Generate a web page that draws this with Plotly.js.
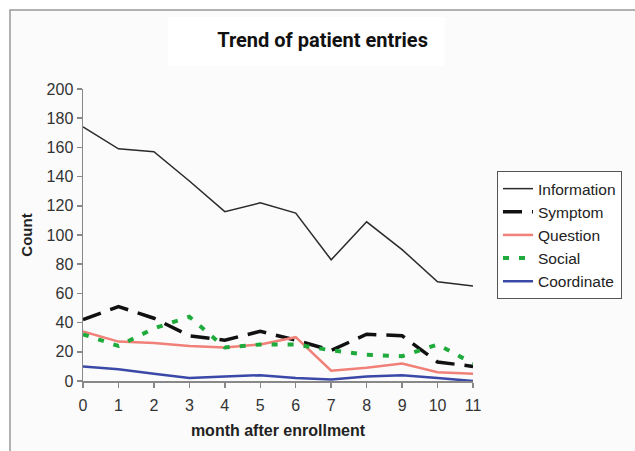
<!DOCTYPE html>
<html>
<head>
<meta charset="utf-8">
<script src="https://cdn.plot.ly/plotly-3.0.1.min.js"></script>
<style>html,body{margin:0;padding:0;background:#fff;}#chart{width:635px;height:451px;}</style>
</head>
<body>
<div id="chart"></div>
<script>
const months = [0,1,2,3,4,5,6,7,8,9,10,11];
const information = [174,159,157,137,116,122,115,83,109,90,68,65];
const symptom = [42,51,43,31,28,34,28,21,32,31,13,10];
const question = [34,27,26,24,23,25,30,7,9,12,6,5];
const social = [32,24,36,44,23,25,25,21,18,17,25,12];
const coordinate = [10,8,5,2,3,4,2,1,3,4,2,0];
const xTicks = ["0","1","2","3","4","5","6","7","8","9","10","11"];

const traces = [
  {x: months, y: information, name: "Information", mode: "lines", line: {color: "#2a2a2a", width: 1.5}},
  {x: months, y: symptom, name: "Symptom", mode: "lines", line: {color: "#111111", width: 3.5, dash: "19px,10px"}},
  {x: months, y: question, name: "Question", mode: "lines", line: {color: "#f08078", width: 2.5}},
  {x: months, y: social, name: "Social", mode: "lines", line: {color: "#1faa3c", width: 4, dash: "6px,10px"}},
  {x: months, y: coordinate, name: "Coordinate", mode: "lines", line: {color: "#3a48a8", width: 2.5}}
];

const layout = {
  width: 635, height: 451,
  margin: {l: 83, r: 162, t: 89, b: 70},
  paper_bgcolor: "#ffffff",
  plot_bgcolor: "rgba(0,0,0,0)",
  font: {family: "Liberation Sans, Arial, sans-serif", color: "#333"},
  title: {text: "<b>Trend of patient entries</b>", x: 0.508, xanchor: "center", y: 0.911, yanchor: "middle",
          font: {family: "Roboto, sans-serif", size: 20, color: "#111"}},
  xaxis: {
    range: [0, 11], tickvals: months, ticktext: xTicks,
    showgrid: false, zeroline: false, showline: true, linecolor: "#888", linewidth: 1.5,
    ticks: "outside", ticklen: 5, tickcolor: "#888", tickwidth: 1.5,
    tickfont: {size: 16, color: "#333"}, ticklabelstandoff: 4,
    title: {text: "<b>month after enrollment</b>", font: {size: 16, color: "#222"}, standoff: 12}
  },
  yaxis: {
    range: [0, 200], dtick: 20,
    showgrid: false, zeroline: false, showline: true, linecolor: "#888", linewidth: 1.5,
    ticks: "outside", ticklen: 5, tickcolor: "#888", tickwidth: 1.5,
    tickfont: {size: 16, color: "#333"},
    title: {text: "<b>Count</b>", font: {size: 15, color: "#222"}, standoff: 10}
  },
  legend: {
    x: 1.0615, y: 0.719, xanchor: "left", yanchor: "top",
    bgcolor: "#ffffff", bordercolor: "#555", borderwidth: 1,
    font: {size: 15.5, color: "#222"}, tracegroupgap: 0, itemwidth: 30
  },
  shapes: [
    {type: "rect", xref: "paper", yref: "paper", x0: -0.1872, x1: 1.6, y0: -0.4, y1: 1.2705,
     fillcolor: "#fbfbfb", line: {color: "#999", width: 1.5}, layer: "below"},
    {type: "rect", xref: "paper", yref: "paper", x0: 0.218, x1: 0.928, y0: 1.0788, y1: 1.2466,
     fillcolor: "#ffffff", line: {width: 0}, layer: "below"}
  ],
  showlegend: true
};

Plotly.newPlot("chart", traces, layout, {displayModeBar: false, staticPlot: true});
</script>
</body>
</html>
